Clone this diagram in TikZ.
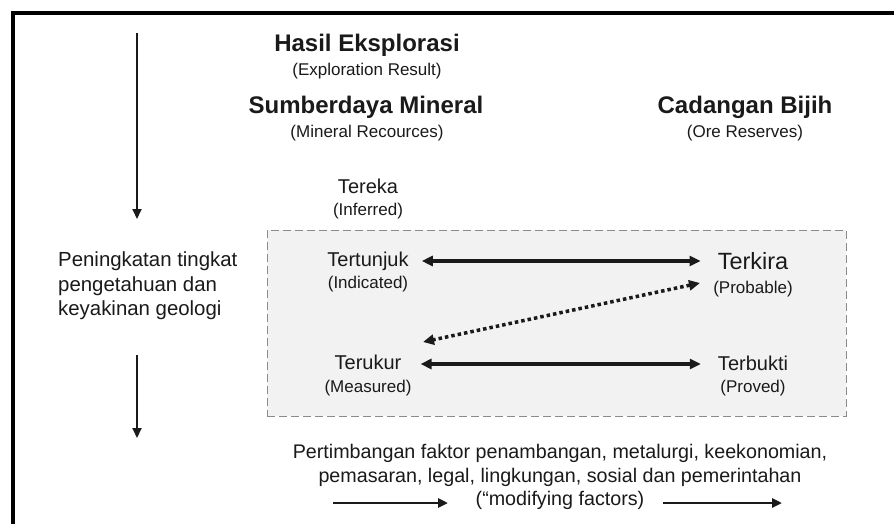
\documentclass[tikz,border=0pt]{standalone}
\usepackage{fontspec}
\setmainfont{Liberation Sans}
\usetikzlibrary{arrows.meta}
\definecolor{boxfill}{HTML}{F2F2F2}
\definecolor{boxline}{HTML}{8A8A8A}
\definecolor{ink}{HTML}{1A1A1A}
\begin{document}
\begin{tikzpicture}[x=1pt,y=-1pt,
  every node/.style={text=ink},
  txt/.style={inner sep=0pt, text height=14.5pt, text depth=4pt, font=\fontsize{20}{24}\selectfont},
  bigtxt/.style={inner sep=0pt, text height=17pt, text depth=4pt, font=\fontsize{23.5}{27}\selectfont},
  sub/.style={inner sep=0pt, text height=12.5pt, text depth=4pt, font=\fontsize{17}{20}\selectfont},
  head/.style={inner sep=0pt, text height=17pt, text depth=5pt, font=\fontsize{24}{28}\selectfont\bfseries},
  dblarr/.style={draw=ink, line width=3.5pt, {Triangle[length=11pt,width=10pt]}-{Triangle[length=11pt,width=10pt]}},
  dotarr/.style={draw=ink, line width=3.5pt, dash pattern=on 3.5pt off 3pt, {Triangle[length=11pt,width=10pt]}-{Triangle[length=11pt,width=10pt]}},
  varr/.style={draw=ink, line width=2pt, -{Triangle[length=10pt,width=9pt]}},
  harr/.style={draw=ink, line width=2.5pt, -{Triangle[length=10pt,width=9pt]}},
  dbox/.style={draw=boxline, fill=boxfill, line width=1pt, dash pattern=on 8pt off 4pt, inner sep=0pt}
]
\useasboundingbox (0,0) rectangle (894,524);
\clip (0,0) rectangle (894,524);
\fill[white] (0,0) rectangle (894,524);

% frame
\coordinate (fa) at (13,540);
\coordinate (fb) at (13,13);
\coordinate (fc) at (910,13);
\draw[line width=4.5pt, line join=miter] (fa) -- (fb) -- (fc);

% dashed box
\node[dbox, minimum width=579pt, minimum height=186pt] (box) at (556.5,323) {};

% headings
\node[head] (hasil) at (367,46) {Hasil Eksplorasi};
\node[sub] (hasilsub) at (367,71) {(Exploration Result)};
\node[head] (sumber) at (366,108) {Sumberdaya Mineral};
\node[sub] (sumbersub) at (367,133) {(Mineral Recources)};
\node[head] (cadangan) at (745,108) {Cadangan Bijih};
\node[sub] (cadangansub) at (745,133) {(Ore Reserves)};

% categories
\node[txt] (tereka) at (368,188) {Tereka};
\node[sub] (inferred) at (368,211) {(Inferred)};
\node[txt] (tertunjuk) at (368,261) {Tertunjuk};
\node[sub] (indicated) at (368,284) {(Indicated)};
\node[txt] (terukur) at (368,364) {Terukur};
\node[sub] (measured) at (368,388) {(Measured)};
\node[bigtxt] (terkira) at (753,263) {Terkira};
\node[sub] (probable) at (753,289) {(Probable)};
\node[txt] (terbukti) at (753,365) {Terbukti};
\node[sub] (proved) at (753,388) {(Proved)};

% left text
\node[inner sep=0pt, anchor=west, align=left, font=\fontsize{20.4}{24.5}\selectfont] (ket) at (58,286)
  {Peningkatan tingkat\\pengetahuan dan\\keyakinan geologi};

% bottom text
\node[inner sep=0pt, align=center, font=\fontsize{19.7}{23.5}\selectfont] (faktor) at (560,477)
  {Pertimbangan faktor penambangan, metalurgi, keekonomian,\\
   pemasaran, legal, lingkungan, sosial dan pemerintahan\\
   (“modifying factors)};

% connectors
\draw[dblarr, shorten <=13pt, shorten >=17pt] (tertunjuk.east) -- (tertunjuk.east -| terkira.west);
\draw[dblarr, shorten <=19pt, shorten >=17pt] (terukur.east) -- (terukur.east -| terbukti.west);
\coordinate (dotA) at (700,283);
\coordinate (dotB) at (423,342);
\draw[dotarr] (dotA) -- (dotB);

% vertical arrows
\coordinate (v1a) at (137,33);
\coordinate (v1b) at (137,219);
\coordinate (v2a) at (137,355);
\coordinate (v2b) at (137,438);
\draw[varr] (v1a) -- (v1b);
\draw[varr] (v2a) -- (v2b);

% bottom arrows
\coordinate (h1a) at (333,503);
\coordinate (h1b) at (448,503);
\coordinate (h2a) at (663,503);
\coordinate (h2b) at (782,503);
\draw[harr] (h1a) -- (h1b);
\draw[harr] (h2a) -- (h2b);
\end{tikzpicture}
\end{document}
